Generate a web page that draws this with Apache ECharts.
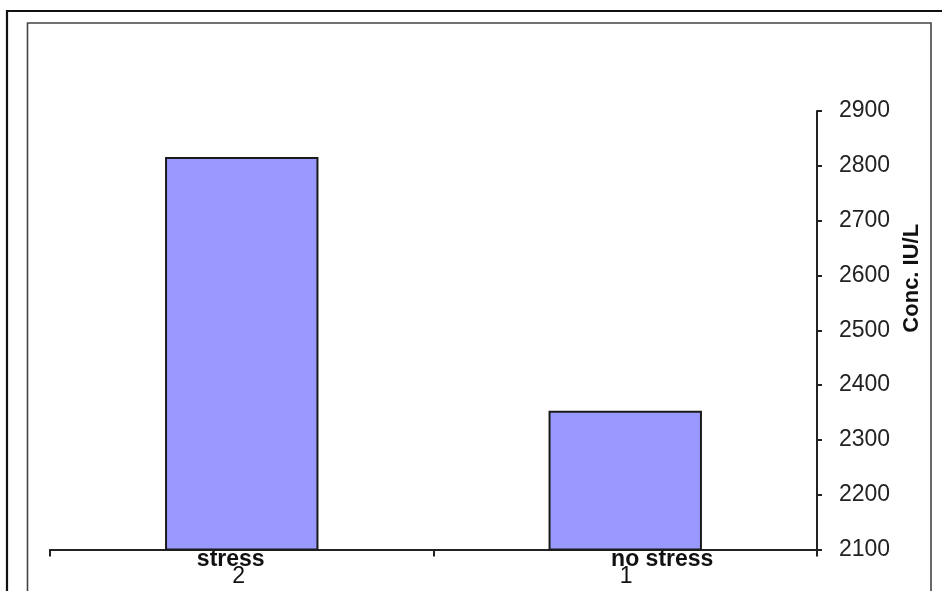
<!DOCTYPE html>
<html>
<head>
<meta charset="utf-8">
<script src="https://cdn.jsdelivr.net/npm/echarts@6/dist/echarts.min.js"></script>
<style>
html,body{margin:0;padding:0;background:#fff;}
#c{width:942px;height:591px;}
</style>
</head>
<body>
<div id="c"></div>
<script>
var categories = ['stress', 'no stress'];
var subLabels = ['2', '1'];
var values = [2816, 2353];
var yTicks = {min: 2100, max: 2900, interval: 100};
var yName = 'Conc. IU/L';

var chart = echarts.init(document.getElementById('c'));
chart.setOption({
  animation: false,
  backgroundColor: '#fff',
  graphic: [
    {type: 'rect', shape: {x: 7, y: 11, width: 1000, height: 1000}, style: {fill: 'none', stroke: '#111', lineWidth: 2.2}, silent: true},
    {type: 'rect', shape: {x: 27.5, y: 23, width: 903.5, height: 1000}, style: {fill: 'none', stroke: '#444', lineWidth: 1.6}, silent: true}
  ],
  grid: {left: 50, right: 125, top: 111, bottom: 41.5, containLabel: false},
  xAxis: {
    type: 'category',
    data: categories,
    boundaryGap: true,
    axisLine: {show: true, onZero: false, lineStyle: {color: '#222', width: 2}},
    axisTick: {show: true, alignWithLabel: false, length: 7, lineStyle: {color: '#222', width: 2}},
    axisLabel: {
      interval: 0,
      margin: 2,
      color: '#111',
      formatter: function (v, i) { return '{a' + i + '|' + v + '}\n{b' + i + '|' + subLabels[i] + '}'; },
      rich: {
        a0: {fontFamily: 'Liberation Sans, Arial, sans-serif', fontWeight: 'bold', fontSize: 23, lineHeight: 17, color: '#111', padding: [0, 22, 0, 0]},
        b0: {fontFamily: 'Liberation Sans, Arial, sans-serif', fontSize: 23, lineHeight: 17, color: '#111', padding: [0, 6, 0, 0]},
        a1: {fontFamily: 'Liberation Sans, Arial, sans-serif', fontWeight: 'bold', fontSize: 23, lineHeight: 17, color: '#111', padding: [0, 0, 0, 74]},
        b1: {fontFamily: 'Liberation Sans, Arial, sans-serif', fontSize: 23, lineHeight: 17, color: '#111', padding: [0, 0, 0, 2]}
      }
    },
    splitLine: {show: false}
  },
  yAxis: {
    type: 'value',
    position: 'right',
    min: yTicks.min,
    max: yTicks.max,
    interval: yTicks.interval,
    name: yName,
    nameLocation: 'middle',
    nameRotate: 90,
    nameGap: 75,
    nameTextStyle: {fontFamily: 'Liberation Sans, Arial, sans-serif', fontWeight: 'bold', fontSize: 22, color: '#111', padding: [0, 0, 0, 104]},
    axisLine: {show: true, lineStyle: {color: '#222', width: 2}},
    axisTick: {show: true, inside: false, length: 5, lineStyle: {color: '#222', width: 2}},
    axisLabel: {
      margin: 22,
      fontFamily: 'Liberation Sans, Arial, sans-serif',
      fontSize: 23,
      color: '#222',
      formatter: function (v) { return String(v); }
    },
    splitLine: {show: false}
  },
  series: [{
    type: 'bar',
    data: values,
    barWidth: '40%',
    itemStyle: {color: '#9999ff', borderColor: '#1a1a1a', borderWidth: 2}
  }]
});
</script>
</body>
</html>
